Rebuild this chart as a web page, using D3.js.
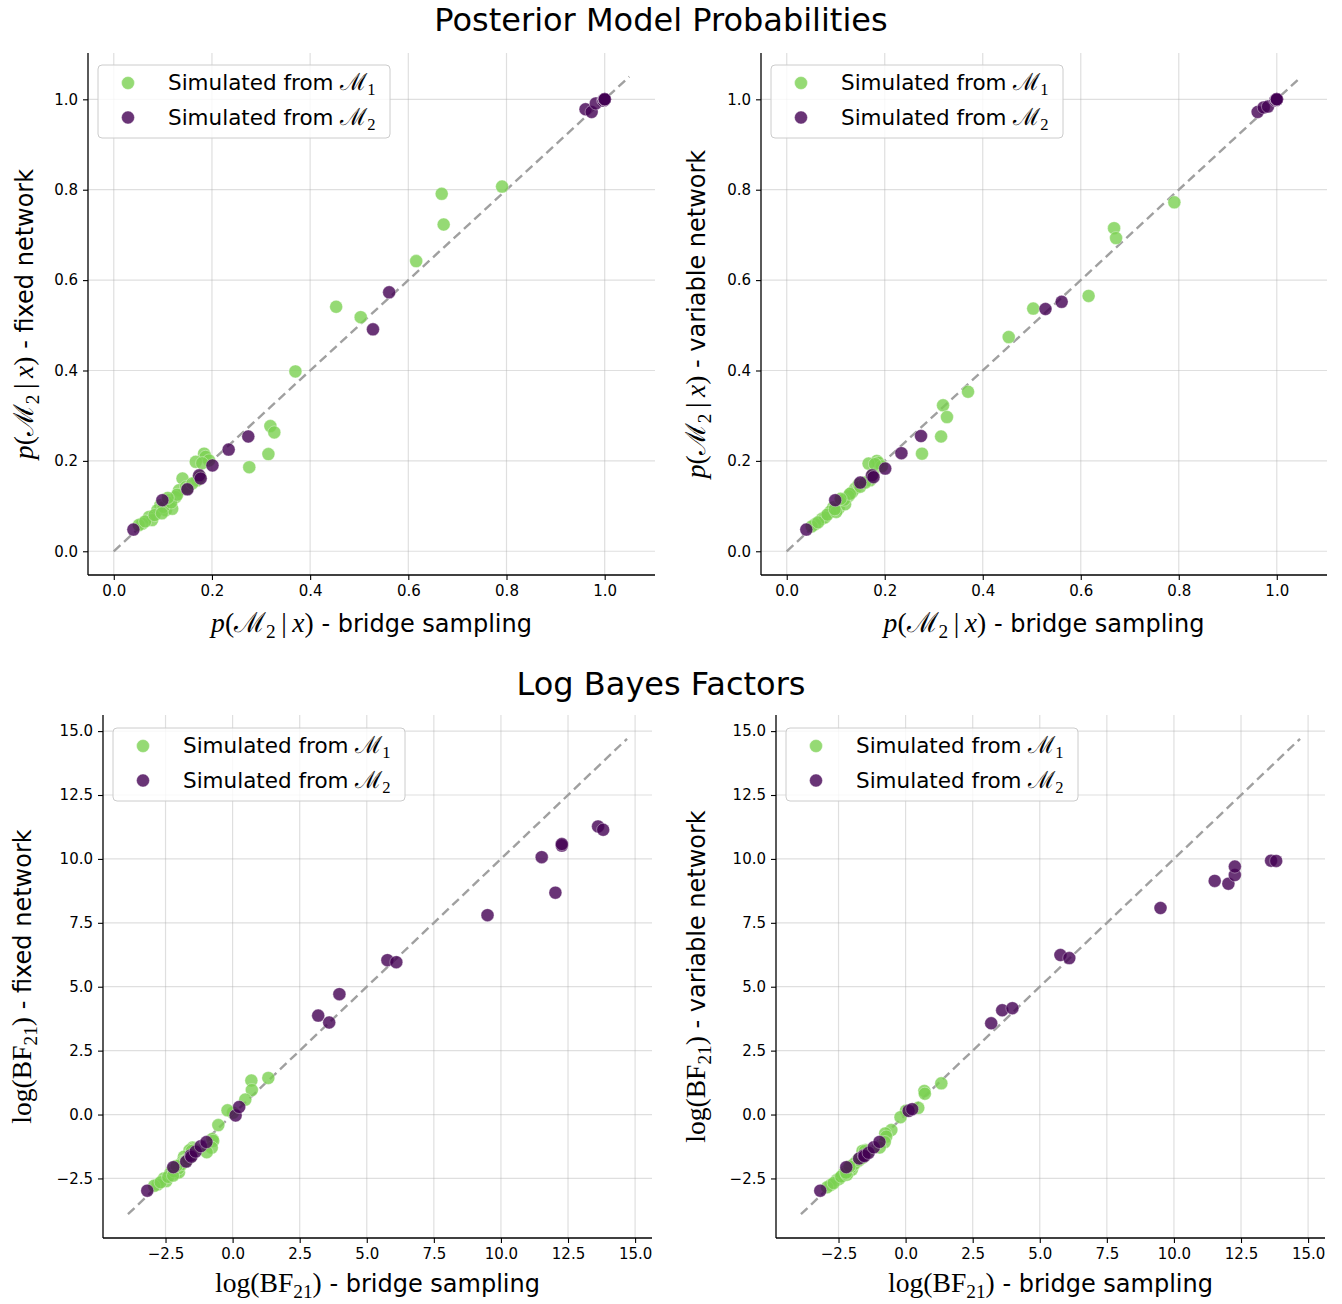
<!DOCTYPE html>
<html>
<head>
<meta charset="utf-8">
<script src="https://cdn.jsdelivr.net/npm/d3@7"></script>
<style>
  html, body { margin: 0; padding: 0; background: #fff; }
  svg { display: block; }
</style>
</head>
<body>
<svg id="fig" width="1342" height="1304"></svg>
<script>
// ---- Data: posterior model probabilities p(M2 | x) ----
// Datasets simulated from M1
const m1Bridge   = [0.791,0.668,0.672,0.616,0.503,0.453,0.370,0.319,0.327,0.315,0.276,0.184,0.187,0.167,0.194,0.170,0.140,0.133,0.147,0.126,0.112,0.095,0.106,0.119,0.089,0.072,0.078,0.058,0.051,0.064,0.083,0.101,0.117,0.129,0.150,0.160,0.176,0.180,0.098,0.110];
const m1Fixed    = [0.807,0.791,0.723,0.642,0.518,0.541,0.398,0.277,0.263,0.215,0.186,0.216,0.209,0.198,0.201,0.157,0.161,0.135,0.142,0.120,0.113,0.102,0.091,0.094,0.091,0.076,0.069,0.061,0.058,0.066,0.080,0.098,0.108,0.125,0.139,0.150,0.165,0.195,0.084,0.118];
const m1Variable = [0.772,0.715,0.693,0.565,0.537,0.474,0.353,0.323,0.297,0.254,0.216,0.200,0.196,0.194,0.188,0.157,0.139,0.130,0.148,0.122,0.110,0.097,0.095,0.104,0.088,0.072,0.075,0.060,0.055,0.064,0.081,0.087,0.114,0.127,0.143,0.152,0.170,0.193,0.093,0.116];
// Datasets simulated from M2
const m2Bridge   = [0.040,0.099,0.150,0.174,0.177,0.201,0.234,0.274,0.528,0.561,0.961,0.9734,0.982,0.997,0.9978,0.99993,0.99999,0.99999,0.99999,0.99999,1.0,1.0];
const m2Fixed    = [0.048,0.113,0.137,0.168,0.161,0.190,0.225,0.254,0.491,0.573,0.978,0.972,0.991,0.9975,0.9973,0.99957,0.99995,0.9998,0.99997,0.99997,0.99999,0.99998];
const m2Variable = [0.048,0.113,0.152,0.168,0.164,0.183,0.217,0.255,0.536,0.552,0.972,0.982,0.984,0.998,0.9978,0.99966,0.99989,0.99988,0.99991,0.99993,0.99995,0.99995];

// ---- Data: log Bayes factors log(BF21) ----
const m1LbfBridge   = [1.331,0.699,0.717,0.473,0.012,-0.189,-0.532,-0.758,-0.722,-0.777,-0.964,-1.489,-1.470,-1.607,-1.424,-1.586,-1.815,-1.875,-1.758,-1.937,-2.071,-2.254,-2.132,-2.002,-2.326,-2.556,-2.470,-2.788,-2.924,-2.683,-2.402,-2.186,-2.021,-1.910,-1.735,-1.658,-1.544,-1.516,-2.220,-2.091];
const m1LbfFixed    = [1.431,1.331,0.959,0.584,0.072,0.164,-0.414,-0.959,-1.030,-1.295,-1.476,-1.289,-1.331,-1.399,-1.380,-1.681,-1.651,-1.857,-1.799,-1.992,-2.061,-2.175,-2.301,-2.266,-2.301,-2.498,-2.602,-2.734,-2.788,-2.650,-2.442,-2.220,-2.111,-1.946,-1.824,-1.735,-1.621,-1.418,-2.389,-2.011];
const m1LbfVariable = [1.220,0.920,0.814,0.261,0.148,-0.104,-0.606,-0.740,-0.862,-1.077,-1.289,-1.386,-1.412,-1.424,-1.463,-1.681,-1.824,-1.901,-1.750,-1.974,-2.091,-2.231,-2.254,-2.154,-2.338,-2.556,-2.512,-2.752,-2.844,-2.683,-2.429,-2.351,-2.050,-1.928,-1.791,-1.719,-1.586,-1.431,-2.278,-2.031];
const m2LbfBridge   = [-3.18,-2.21,-1.73,-1.558,-1.537,-1.379,-1.186,-0.974,0.112,0.245,3.19,3.60,3.98,5.77,6.10,9.50,11.52,12.03,12.27,12.27,13.62,13.81];
const m2LbfFixed    = [-2.98,-2.06,-1.84,-1.600,-1.651,-1.450,-1.238,-1.077,-0.036,0.294,3.87,3.60,4.71,6.04,5.96,7.80,10.07,8.68,10.52,10.58,11.27,11.14];
const m2LbfVariable = [-2.98,-2.06,-1.72,-1.600,-1.629,-1.498,-1.283,-1.072,0.144,0.209,3.57,4.08,4.16,6.24,6.12,8.08,9.14,9.03,9.37,9.70,9.93,9.92];

// ---- Axis ticks ----
const probTicks = [0.0, 0.2, 0.4, 0.6, 0.8, 1.0];
const lbfTicks  = [-2.5, 0.0, 2.5, 5.0, 7.5, 10.0, 12.5, 15.0];
const probLine  = [0.0, 1.05];
const lbfLine   = [-3.9, 14.7];

const legendLabels = ["1", "2"];

const GREEN = "#7ad151";
const PURPLE = "#440154";
const SANS = "DejaVu Sans, sans-serif";
const SERIF = "Liberation Serif, DejaVu Serif, serif";

const svg = d3.select("#fig");

// Suptitles
svg.append("text").attr("x", 661).attr("y", 31).attr("text-anchor", "middle")
  .attr("font-family", SANS).attr("font-size", 32).text("Posterior Model Probabilities");
svg.append("text").attr("x", 661).attr("y", 695).attr("text-anchor", "middle")
  .attr("font-family", SANS).attr("font-size", 32).text("Log Bayes Factors");

// Append a sequence of math/sans pieces into a text element
function richText(sel, parts, size, mathScale) {
  let shifted = false;
  const ms = size * mathScale;
  const subShift = ms * 0.22;
  parts.forEach(p => {
    const t = sel.append("tspan").text(p.t);
    const fam = p.f === "sans" ? SANS : SERIF;
    const base = p.f === "sans" ? size : ms;
    t.attr("font-family", fam)
     .attr("font-style", p.f === "it" ? "italic" : "normal")
     .attr("font-size", p.sub ? ms * 0.7 : base);
    if (p.sub && !shifted) { t.attr("dy", subShift); shifted = true; }
    else if (!p.sub && shifted) { t.attr("dy", -subShift); shifted = false; }
  });
}

const probLabel = [
  {t: "p", f: "it"}, {t: "(", f: "rm"}, {t: "ℳ", f: "rm"}, {t: "2", f: "rm", sub: true},
  {t: "\u2009|\u2009", f: "rm"}, {t: "x", f: "it"}, {t: ")", f: "rm"}
];
const lbfLabel = [
  {t: "log(BF", f: "rm"}, {t: "21", f: "rm", sub: true}, {t: ")", f: "rm"}
];

const panels = [
  { box: [88, 655, 53, 575], dom: [-0.0525, 1.1025], ydom: [-0.0525, 1.1025], ticks: probTicks, line: probLine,
    g: [m1Bridge, m1Fixed], p: [m2Bridge, m2Fixed], lab: probLabel, ytxt: " - fixed network", yLabX: 25, xLabDy: 57, leg: [98, 65] },
  { box: [761, 1327, 53, 575], dom: [-0.0525, 1.1025], ydom: [-0.0525, 1.1025], ticks: probTicks, line: probLine,
    g: [m1Bridge, m1Variable], p: [m2Bridge, m2Variable], lab: probLabel, ytxt: " - variable network", yLabX: 697, xLabDy: 57, leg: [771, 65] },
  { box: [103, 652, 715, 1238], dom: [-4.83, 15.63], ydom: [-4.83, 15.63], ticks: lbfTicks, line: lbfLine,
    g: [m1LbfBridge, m1LbfFixed], p: [m2LbfBridge, m2LbfFixed], lab: lbfLabel, ytxt: " - fixed network", yLabX: 23, xLabDy: 54, leg: [113, 728] },
  { box: [776, 1325, 715, 1238], dom: [-4.83, 15.63], ydom: [-4.83, 15.63], ticks: lbfTicks, line: lbfLine,
    g: [m1LbfBridge, m1LbfVariable], p: [m2LbfBridge, m2LbfVariable], lab: lbfLabel, ytxt: " - variable network", yLabX: 697, xLabDy: 54, leg: [786, 728] }
];

const R = 6.5;

panels.forEach(P => {
  const [x0, x1, y0, y1] = P.box;
  const x = d3.scaleLinear().domain(P.dom).range([x0, x1]);
  const y = d3.scaleLinear().domain(P.ydom).range([y1, y0]);
  const g = svg.append("g");

  // grid
  g.append("g").selectAll("line").data(P.ticks).join("line")
    .attr("x1", d => x(d)).attr("x2", d => x(d)).attr("y1", y0).attr("y2", y1)
    .attr("stroke", "#b0b0b0").attr("stroke-opacity", 0.4).attr("stroke-width", 1.2);
  g.append("g").selectAll("line").data(P.ticks).join("line")
    .attr("y1", d => y(d)).attr("y2", d => y(d)).attr("x1", x0).attr("x2", x1)
    .attr("stroke", "#b0b0b0").attr("stroke-opacity", 0.4).attr("stroke-width", 1.2);

  // identity reference line
  g.append("line")
    .attr("x1", x(P.line[0])).attr("y1", y(P.line[0]))
    .attr("x2", x(P.line[1])).attr("y2", y(P.line[1]))
    .attr("stroke", "#a0a0a0").attr("stroke-width", 2.4)
    .attr("stroke-dasharray", "9,5");

  // scatter
  const drawPts = (xs, ys, col) => {
    g.append("g").selectAll("circle").data(xs.map((v, i) => [v, ys[i]])).join("circle")
      .attr("cx", d => x(d[0])).attr("cy", d => y(d[1])).attr("r", R)
      .attr("fill", col).attr("fill-opacity", 0.8)
      .attr("stroke", "#fff").attr("stroke-opacity", 0.45).attr("stroke-width", 0.8);
  };
  drawPts(P.g[0], P.g[1], GREEN);
  drawPts(P.p[0], P.p[1], PURPLE);

  // axes
  const fmt = d3.format(".1f");
  const xa = g.append("g").attr("transform", `translate(0,${y1})`)
    .call(d3.axisBottom(x).tickValues(P.ticks).tickFormat(fmt).tickSize(5).tickPadding(5).tickSizeOuter(0));
  const ya = g.append("g").attr("transform", `translate(${x0},0)`)
    .call(d3.axisLeft(y).tickValues(P.ticks).tickFormat(fmt).tickSize(5).tickPadding(5).tickSizeOuter(0));
  [xa, ya].forEach(a => {
    a.select(".domain").remove();
    a.selectAll(".tick line").attr("stroke", "#000").attr("stroke-width", 1.1);
    a.selectAll(".tick text").attr("font-family", SANS).attr("font-size", 15).attr("fill", "#000");
  });
  g.append("line").attr("x1", x0).attr("x2", x1).attr("y1", y1).attr("y2", y1).attr("stroke", "#000").attr("stroke-width", 1.3);
  g.append("line").attr("x1", x0).attr("x2", x0).attr("y1", y0).attr("y2", y1).attr("stroke", "#000").attr("stroke-width", 1.3);

  // axis labels
  const xl = g.append("text").attr("x", (x0 + x1) / 2).attr("y", y1 + P.xLabDy).attr("text-anchor", "middle").attr("fill", "#000");
  richText(xl, P.lab.concat([{t: " - bridge sampling", f: "sans"}]), 24, 1.15);
  const yl = g.append("text").attr("transform", `translate(${P.yLabX + 8},${(y0 + y1) / 2}) rotate(-90)`)
    .attr("text-anchor", "middle").attr("fill", "#000");
  richText(yl, P.lab.concat([{t: P.ytxt, f: "sans"}]), 24, 1.15);

  // legend
  const [lx, ly] = P.leg;
  const lg = g.append("g").attr("transform", `translate(${lx},${ly})`);
  lg.append("rect").attr("width", 292).attr("height", 73).attr("rx", 4)
    .attr("fill", "#fff").attr("fill-opacity", 0.8).attr("stroke", "#cccccc").attr("stroke-width", 1);
  [[GREEN, legendLabels[0]], [PURPLE, legendLabels[1]]].forEach(([col, sub], i) => {
    const cy = 18 + i * 34.5;
    lg.append("circle").attr("cx", 30).attr("cy", cy).attr("r", R)
      .attr("fill", col).attr("fill-opacity", 0.8)
      .attr("stroke", "#fff").attr("stroke-opacity", 0.45).attr("stroke-width", 0.8);
    const t = lg.append("text").attr("x", 70).attr("y", cy + 7).attr("fill", "#000");
    richText(t, [{t: "Simulated from ", f: "sans"}, {t: "ℳ", f: "rm"}, {t: sub, f: "rm", sub: true}], 21.5, 1.1);
  });
});
</script>
</body>
</html>
